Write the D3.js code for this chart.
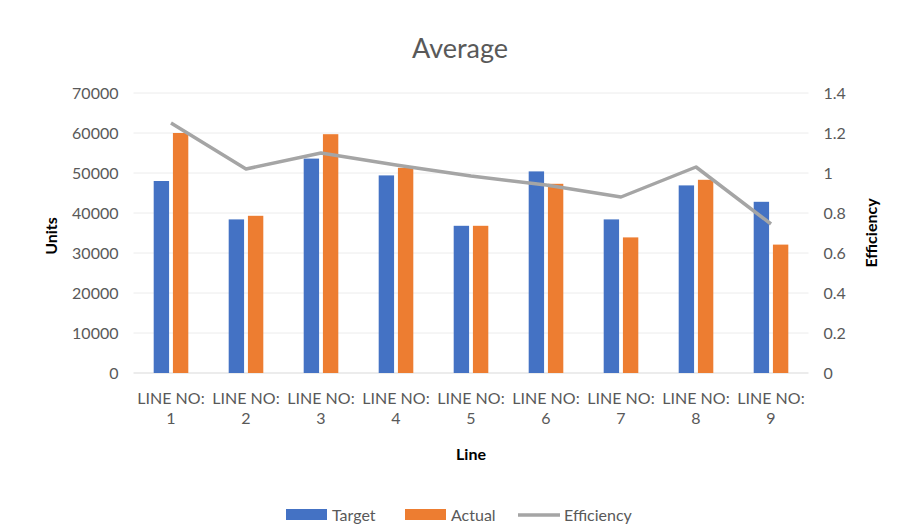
<!DOCTYPE html>
<html lang="en">
<head>
    <meta charset="UTF-8">
    <title>Average</title>
    <script src="https://d3js.org/d3.v7.min.js"></script>
    <style>
        body { margin: 0; background: #fff; }
        text { font-family: Lato, "Open Sans", sans-serif; }
    </style>
</head>
<body>
<script>
    const width  = 910;
    const height = 529;

    const lines      = ["1", "2", "3", "4", "5", "6", "7", "8", "9"];
    const target     = [48000, 38400, 53600, 49400, 36800, 50400, 38400, 46900, 42800];
    const actual     = [60000, 39300, 59700, 51300, 36800, 47300, 33900, 48300, 32100];
    const efficiency = [1.25, 1.02, 1.10, 1.04, 0.985, 0.94, 0.88, 1.03, 0.745];
    const unitTicks  = [0, 10000, 20000, 30000, 40000, 50000, 60000, 70000];
    const effTicks   = [0, 0.2, 0.4, 0.6, 0.8, 1, 1.2, 1.4];

    const blue   = "#4472c4";
    const orange = "#ed7d31";
    const grey   = "#a5a5a5";
    const textCol = "#595959";

    const plotLeft = 133.5, plotRight = 808.5, plotTop = 93, plotBottom = 373;

    const svg = d3.select("body")
            .append("svg")
            .attr("width", width)
            .attr("height", height);

    const x = d3.scaleBand()
            .domain(lines)
            .range([plotLeft, plotRight]);

    const xInner = d3.scaleBand()
            .domain(["target", "actual"])
            .range([0, x.bandwidth()])
            .paddingInner(0.2)
            .paddingOuter(1.05);

    const yUnits = d3.scaleLinear().domain([0, 70000]).range([plotBottom, plotTop]);
    const yEff   = d3.scaleLinear().domain([0, 1.4]).range([plotBottom, plotTop]);

    // grid
    svg.append("g")
       .selectAll("line")
       .data(unitTicks)
       .join("line")
       .attr("x1", plotLeft).attr("x2", plotRight)
       .attr("y1", d => yUnits(d)).attr("y2", d => yUnits(d))
       .attr("stroke", d => d === 0 ? "#d9d9d9" : "#ececec")
       .attr("stroke-width", 1);

    // left axis
    const leftAxis = svg.append("g")
            .attr("transform", "translate(" + (plotLeft - 15) + ",0)")
            .call(d3.axisLeft(yUnits).tickValues(unitTicks).tickSize(0).tickPadding(0)
                    .tickFormat(d3.format("d")));
    leftAxis.select(".domain").remove();
    leftAxis.selectAll("text")
            .attr("fill", textCol)
            .style("font-size", "16px");

    // right axis
    const rightAxis = svg.append("g")
            .attr("transform", "translate(" + (plotRight + 15) + ",0)")
            .call(d3.axisRight(yEff).tickValues(effTicks).tickSize(0).tickPadding(0)
                    .tickFormat(d3.format("~g")));
    rightAxis.select(".domain").remove();
    rightAxis.selectAll("text")
             .attr("fill", textCol)
             .style("font-size", "16px");

    // bars
    const groups = svg.append("g")
            .selectAll("g")
            .data(lines)
            .join("g")
            .attr("transform", d => "translate(" + x(d) + ",0)");

    groups.append("rect")
          .attr("x", xInner("target"))
          .attr("width", xInner.bandwidth())
          .attr("y", (d, i) => yUnits(target[i]))
          .attr("height", (d, i) => plotBottom - yUnits(target[i]))
          .attr("fill", blue);

    groups.append("rect")
          .attr("x", xInner("actual"))
          .attr("width", xInner.bandwidth())
          .attr("y", (d, i) => yUnits(actual[i]))
          .attr("height", (d, i) => plotBottom - yUnits(actual[i]))
          .attr("fill", orange);

    // efficiency line
    const effLine = d3.line()
            .x((d, i) => x(lines[i]) + x.bandwidth() / 2)
            .y(d => yEff(d));

    svg.append("path")
       .datum(efficiency)
       .attr("d", effLine)
       .attr("fill", "none")
       .attr("stroke", grey)
       .attr("stroke-width", 3.5)
       .attr("stroke-linejoin", "round");

    // x labels
    const xLabels = svg.append("g")
            .selectAll("text")
            .data(lines)
            .join("text")
            .attr("text-anchor", "middle")
            .attr("fill", textCol)
            .style("font-size", "16px")
            .attr("transform", d => "translate(" + (x(d) + x.bandwidth() / 2) + ",404)");
    xLabels.append("tspan").attr("x", 0).attr("dy", 0).text("LINE NO:");
    xLabels.append("tspan").attr("x", 0).attr("dy", 20).text(d => d);

    // titles
    svg.append("text")
       .attr("x", 460).attr("y", 58)
       .attr("text-anchor", "middle")
       .attr("fill", textCol)
       .style("font-size", "27px")
       .text("Average");

    svg.append("text")
       .attr("x", 471).attr("y", 460)
       .attr("text-anchor", "middle")
       .attr("fill", "#000")
       .style("font-size", "16px")
       .style("font-weight", "bold")
       .text("Line");

    svg.append("text")
       .attr("transform", "translate(57,236) rotate(-90)")
       .attr("text-anchor", "middle")
       .style("font-size", "16px")
       .style("font-weight", "bold")
       .text("Units");

    svg.append("text")
       .attr("transform", "translate(877,233) rotate(-90)")
       .attr("text-anchor", "middle")
       .style("font-size", "16px")
       .style("font-weight", "bold")
       .text("Efficiency");

    // legend
    const legend = [
        {name: "Target", color: blue, kind: "rect", x: 286},
        {name: "Actual", color: orange, kind: "rect", x: 405},
        {name: "Efficiency", color: grey, kind: "line", x: 518}
    ];
    const lg = svg.append("g")
            .selectAll("g")
            .data(legend)
            .join("g")
            .attr("transform", d => "translate(" + d.x + ",515)");
    lg.filter(d => d.kind === "rect")
      .append("rect")
      .attr("x", 0).attr("y", -6).attr("width", 41).attr("height", 11)
      .attr("fill", d => d.color);
    lg.filter(d => d.kind === "line")
      .append("line")
      .attr("x1", 0).attr("x2", 42).attr("y1", 0).attr("y2", 0)
      .attr("stroke", d => d.color).attr("stroke-width", 3.5);
    lg.append("text")
      .attr("x", 46).attr("y", 6)
      .attr("fill", textCol)
      .style("font-size", "16px")
      .text(d => d.name);
</script>
</body>
</html>
